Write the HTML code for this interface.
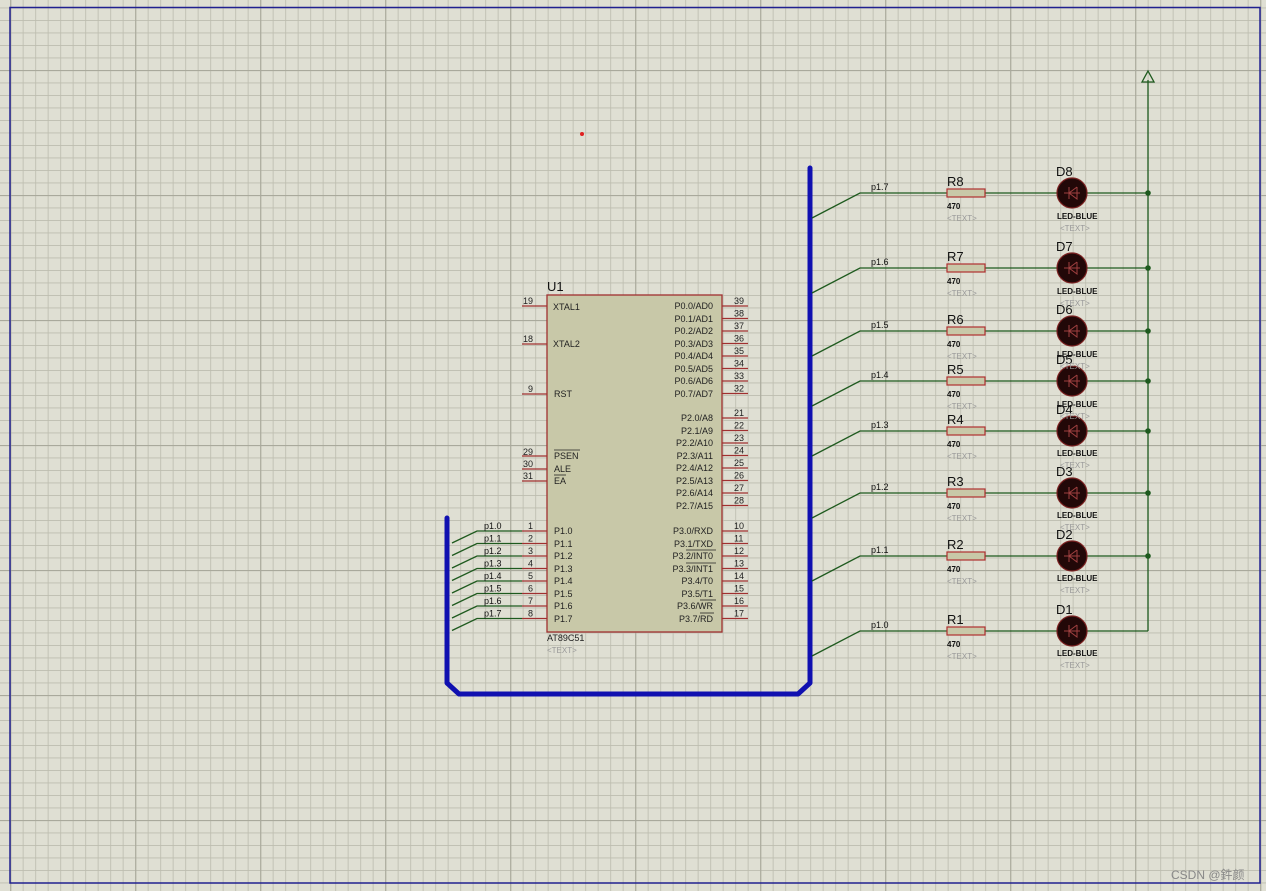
<!DOCTYPE html>
<html><head><meta charset="utf-8"><style>
html,body{margin:0;padding:0;background:#dcdcd0;}
svg{display:block;font-family:"Liberation Sans",sans-serif;}
.pn{font-size:9px;fill:#222;}
.nm{font-size:9px;fill:#222;}
.lb{font-size:9px;fill:#111;}
.big{font-size:13px;fill:#111;}
.sm{font-size:8px;fill:#111;font-weight:bold;}
.tx{font-size:8px;fill:#999;}
.g{stroke:#1e5a1e;stroke-width:1.3;fill:none;}
.p{stroke:#a03030;stroke-width:1.3;}
</style></head><body>
<svg width="1266" height="891" viewBox="0 0 1266 891" xmlns="http://www.w3.org/2000/svg">
<defs>
<pattern id="mi" width="12.5" height="12.5" patternUnits="userSpaceOnUse" patternTransform="translate(10.2,7.5)">
<path d="M0 0H12.5M0 0V12.5" stroke="#bdbdaf" stroke-width="1.7" fill="none"/></pattern>
<pattern id="ma" width="125" height="125" patternUnits="userSpaceOnUse" patternTransform="translate(10.2,70)">
<path d="M0 0H125M0 0V125" stroke="#a9a99c" stroke-width="2.2" fill="none"/></pattern>
</defs>
<rect width="1266" height="891" fill="#dfdfd3"/>
<rect width="1266" height="891" fill="url(#mi)"/>
<rect width="1266" height="891" fill="url(#ma)"/>
<rect x="10" y="7.5" width="1250" height="875.5" fill="none" stroke="#202090" stroke-width="1.5"/>
<circle cx="582" cy="134" r="2" fill="#e02020"/>

<text x="547" y="291" class="big">U1</text>
<rect x="547" y="295" width="175" height="337" fill="#c8c8a8" stroke="#a03030" stroke-width="1.3"/>
<g class="p">
<line x1="522" y1="306" x2="547" y2="306"/><line x1="522" y1="344" x2="547" y2="344"/><line x1="522" y1="394" x2="547" y2="394"/>
<line x1="522" y1="456" x2="547" y2="456"/><line x1="522" y1="469" x2="547" y2="469"/><line x1="522" y1="481" x2="547" y2="481"/>
<line x1="522" y1="531" x2="547" y2="531"/><line x1="522" y1="543.5" x2="547" y2="543.5"/><line x1="522" y1="556" x2="547" y2="556"/><line x1="522" y1="568.5" x2="547" y2="568.5"/>
<line x1="522" y1="581" x2="547" y2="581"/><line x1="522" y1="593.5" x2="547" y2="593.5"/><line x1="522" y1="606" x2="547" y2="606"/><line x1="522" y1="618.5" x2="547" y2="618.5"/>
<line x1="722" y1="306" x2="748" y2="306"/><line x1="722" y1="318.5" x2="748" y2="318.5"/><line x1="722" y1="331" x2="748" y2="331"/><line x1="722" y1="343.5" x2="748" y2="343.5"/>
<line x1="722" y1="356" x2="748" y2="356"/><line x1="722" y1="368.5" x2="748" y2="368.5"/><line x1="722" y1="381" x2="748" y2="381"/><line x1="722" y1="393.5" x2="748" y2="393.5"/>
<line x1="722" y1="418" x2="748" y2="418"/><line x1="722" y1="430.5" x2="748" y2="430.5"/><line x1="722" y1="443" x2="748" y2="443"/><line x1="722" y1="455.5" x2="748" y2="455.5"/>
<line x1="722" y1="468" x2="748" y2="468"/><line x1="722" y1="480.5" x2="748" y2="480.5"/><line x1="722" y1="493" x2="748" y2="493"/><line x1="722" y1="505.5" x2="748" y2="505.5"/>
<line x1="722" y1="531" x2="748" y2="531"/><line x1="722" y1="543.5" x2="748" y2="543.5"/><line x1="722" y1="556" x2="748" y2="556"/><line x1="722" y1="568.5" x2="748" y2="568.5"/>
<line x1="722" y1="581" x2="748" y2="581"/><line x1="722" y1="593.5" x2="748" y2="593.5"/><line x1="722" y1="606" x2="748" y2="606"/><line x1="722" y1="618.5" x2="748" y2="618.5"/>
</g>
<g class="pn">
<text x="523" y="304">19</text><text x="523" y="342">18</text><text x="528" y="392">9</text>
<text x="523" y="455">29</text><text x="523" y="467">30</text><text x="523" y="479">31</text>
<text x="528" y="529">1</text><text x="528" y="541.5">2</text><text x="528" y="554">3</text><text x="528" y="566.5">4</text>
<text x="528" y="579">5</text><text x="528" y="591.5">6</text><text x="528" y="604">7</text><text x="528" y="616.5">8</text>
<text x="734" y="304">39</text><text x="734" y="316.5">38</text><text x="734" y="329">37</text><text x="734" y="341.5">36</text>
<text x="734" y="354">35</text><text x="734" y="366.5">34</text><text x="734" y="379">33</text><text x="734" y="391.5">32</text>
<text x="734" y="416">21</text><text x="734" y="428.5">22</text><text x="734" y="441">23</text><text x="734" y="453.5">24</text>
<text x="734" y="466">25</text><text x="734" y="478.5">26</text><text x="734" y="491">27</text><text x="734" y="503.5">28</text>
<text x="734" y="529">10</text><text x="734" y="541.5">11</text><text x="734" y="554">12</text><text x="734" y="566.5">13</text>
<text x="734" y="579">14</text><text x="734" y="591.5">15</text><text x="734" y="604">16</text><text x="734" y="616.5">17</text>
</g>
<g class="nm">
<text x="553" y="310">XTAL1</text><text x="553" y="347">XTAL2</text><text x="554" y="397">RST</text>
<text x="554" y="459">PSEN</text><text x="554" y="472">ALE</text><text x="554" y="484">EA</text>
<text x="554" y="534">P1.0</text><text x="554" y="547">P1.1</text><text x="554" y="559">P1.2</text><text x="554" y="572">P1.3</text>
<text x="554" y="584">P1.4</text><text x="554" y="597">P1.5</text><text x="554" y="609">P1.6</text><text x="554" y="622">P1.7</text>
</g>
<g class="nm" text-anchor="end">
<text x="713" y="309">P0.0/AD0</text><text x="713" y="322">P0.1/AD1</text><text x="713" y="334">P0.2/AD2</text><text x="713" y="347">P0.3/AD3</text>
<text x="713" y="359">P0.4/AD4</text><text x="713" y="372">P0.5/AD5</text><text x="713" y="384">P0.6/AD6</text><text x="713" y="397">P0.7/AD7</text>
<text x="713" y="421">P2.0/A8</text><text x="713" y="434">P2.1/A9</text><text x="713" y="446">P2.2/A10</text><text x="713" y="459">P2.3/A11</text>
<text x="713" y="471">P2.4/A12</text><text x="713" y="484">P2.5/A13</text><text x="713" y="496">P2.6/A14</text><text x="713" y="509">P2.7/A15</text>
<text x="713" y="534">P3.0/RXD</text><text x="713" y="547">P3.1/TXD</text><text x="713" y="559">P3.2/INT0</text><text x="713" y="572">P3.3/INT1</text>
<text x="713" y="584">P3.4/T0</text><text x="713" y="597">P3.5/T1</text><text x="713" y="609">P3.6/WR</text><text x="713" y="622">P3.7/RD</text>
</g>
<g stroke="#222" stroke-width="0.8">
<line x1="554" y1="450" x2="580" y2="450"/><line x1="554" y1="475" x2="566" y2="475"/>
<line x1="686" y1="550" x2="716" y2="550"/><line x1="686" y1="563" x2="716" y2="563"/><line x1="700" y1="600" x2="716" y2="600"/><line x1="700" y1="613" x2="714" y2="613"/>
</g>
<text x="547" y="641" class="nm">AT89C51</text>
<text x="547" y="653" class="tx">&lt;TEXT&gt;</text>

<g class="g">
<path d="M452 543 L477 531 H522"/><path d="M452 555.5 L477 543.5 H522"/><path d="M452 568 L477 556 H522"/><path d="M452 580.5 L477 568.5 H522"/>
<path d="M452 593 L477 581 H522"/><path d="M452 605.5 L477 593.5 H522"/><path d="M452 618 L477 606 H522"/><path d="M452 630.5 L477 618.5 H522"/>
</g>
<g class="lb">
<text x="484" y="529">p1.0</text><text x="484" y="541.5">p1.1</text><text x="484" y="554">p1.2</text><text x="484" y="566.5">p1.3</text>
<text x="484" y="579">p1.4</text><text x="484" y="591.5">p1.5</text><text x="484" y="604">p1.6</text><text x="484" y="616.5">p1.7</text>
</g>

<path d="M447 518 V683 L459 694 H798 L810 683 V168" fill="none" stroke="#1010b0" stroke-width="5" stroke-linejoin="round" stroke-linecap="round"/>

<g class="g">
<path d="M812 218 L860 193 H947 M985 193 H1057 M1087 193 H1148"/>
<path d="M812 293 L860 268 H947 M985 268 H1057 M1087 268 H1148"/>
<path d="M812 356 L860 331 H947 M985 331 H1057 M1087 331 H1148"/>
<path d="M812 406 L860 381 H947 M985 381 H1057 M1087 381 H1148"/>
<path d="M812 456 L860 431 H947 M985 431 H1057 M1087 431 H1148"/>
<path d="M812 518 L860 493 H947 M985 493 H1057 M1087 493 H1148"/>
<path d="M812 581 L860 556 H947 M985 556 H1057 M1087 556 H1148"/>
<path d="M812 656 L860 631 H947 M985 631 H1057 M1087 631 H1148"/>
<path d="M1148 631 V80"/>
<path d="M1142 82 L1148 71 L1154 82 Z"/>
</g>
<g fill="#1e5a1e">
<circle cx="1148" cy="193" r="2.8"/><circle cx="1148" cy="268" r="2.8"/><circle cx="1148" cy="331" r="2.8"/><circle cx="1148" cy="381" r="2.8"/>
<circle cx="1148" cy="431" r="2.8"/><circle cx="1148" cy="493" r="2.8"/><circle cx="1148" cy="556" r="2.8"/>
</g>
<g class="lb">
<text x="871" y="190">p1.7</text><text x="871" y="265">p1.6</text><text x="871" y="328">p1.5</text><text x="871" y="378">p1.4</text>
<text x="871" y="428">p1.3</text><text x="871" y="490">p1.2</text><text x="871" y="553">p1.1</text><text x="871" y="628">p1.0</text>
</g>
<g fill="#c8c8a8" stroke="#b03030" stroke-width="1.2">
<rect x="947" y="189" width="38" height="8"/><rect x="947" y="264" width="38" height="8"/><rect x="947" y="327" width="38" height="8"/><rect x="947" y="377" width="38" height="8"/>
<rect x="947" y="427" width="38" height="8"/><rect x="947" y="489" width="38" height="8"/><rect x="947" y="552" width="38" height="8"/><rect x="947" y="627" width="38" height="8"/>
</g>
<g fill="#220808" stroke="#7a2020" stroke-width="1.2">
<circle cx="1072" cy="193" r="15"/><circle cx="1072" cy="268" r="15"/><circle cx="1072" cy="331" r="15"/><circle cx="1072" cy="381" r="15"/>
<circle cx="1072" cy="431" r="15"/><circle cx="1072" cy="493" r="15"/><circle cx="1072" cy="556" r="15"/><circle cx="1072" cy="631" r="15"/>
</g>
<g fill="none" stroke="#a04040" stroke-width="1">
<path d="M1064 193 H1080 M1077 187 V199 L1069 193 L1077 187 M1069 187 V199"/>
<path d="M1064 268 H1080 M1077 262 V274 L1069 268 L1077 262 M1069 262 V274"/>
<path d="M1064 331 H1080 M1077 325 V337 L1069 331 L1077 325 M1069 325 V337"/>
<path d="M1064 381 H1080 M1077 375 V387 L1069 381 L1077 375 M1069 375 V387"/>
<path d="M1064 431 H1080 M1077 425 V437 L1069 431 L1077 425 M1069 425 V437"/>
<path d="M1064 493 H1080 M1077 487 V499 L1069 493 L1077 487 M1069 487 V499"/>
<path d="M1064 556 H1080 M1077 550 V562 L1069 556 L1077 550 M1069 550 V562"/>
<path d="M1064 631 H1080 M1077 625 V637 L1069 631 L1077 625 M1069 625 V637"/>
</g>
<g class="big">
<text x="947" y="186">R8</text><text x="947" y="261">R7</text><text x="947" y="324">R6</text><text x="947" y="374">R5</text>
<text x="947" y="424">R4</text><text x="947" y="486">R3</text><text x="947" y="549">R2</text><text x="947" y="624">R1</text>
<text x="1056" y="176">D8</text><text x="1056" y="251">D7</text><text x="1056" y="314">D6</text><text x="1056" y="364">D5</text>
<text x="1056" y="414">D4</text><text x="1056" y="476">D3</text><text x="1056" y="539">D2</text><text x="1056" y="614">D1</text>
</g>
<g class="sm">
<text x="947" y="209">470</text><text x="947" y="284">470</text><text x="947" y="347">470</text><text x="947" y="397">470</text>
<text x="947" y="447">470</text><text x="947" y="509">470</text><text x="947" y="572">470</text><text x="947" y="647">470</text>
<text x="1057" y="219">LED-BLUE</text><text x="1057" y="294">LED-BLUE</text><text x="1057" y="357">LED-BLUE</text><text x="1057" y="407">LED-BLUE</text>
<text x="1057" y="456">LED-BLUE</text><text x="1057" y="518">LED-BLUE</text><text x="1057" y="581">LED-BLUE</text><text x="1057" y="656">LED-BLUE</text>
</g>
<g class="tx">
<text x="947" y="221">&lt;TEXT&gt;</text><text x="947" y="296">&lt;TEXT&gt;</text><text x="947" y="359">&lt;TEXT&gt;</text><text x="947" y="409">&lt;TEXT&gt;</text>
<text x="947" y="459">&lt;TEXT&gt;</text><text x="947" y="521">&lt;TEXT&gt;</text><text x="947" y="584">&lt;TEXT&gt;</text><text x="947" y="659">&lt;TEXT&gt;</text>
<text x="1060" y="231">&lt;TEXT&gt;</text><text x="1060" y="306">&lt;TEXT&gt;</text><text x="1060" y="369">&lt;TEXT&gt;</text><text x="1060" y="419">&lt;TEXT&gt;</text>
<text x="1060" y="468">&lt;TEXT&gt;</text><text x="1060" y="530">&lt;TEXT&gt;</text><text x="1060" y="593">&lt;TEXT&gt;</text><text x="1060" y="668">&lt;TEXT&gt;</text>
</g>
<text x="1171" y="879" style="font-family:'Liberation Sans','Noto Sans CJK SC',sans-serif;font-size:12px;fill:#888">CSDN @鈝颜</text>
</svg>
</body></html>
